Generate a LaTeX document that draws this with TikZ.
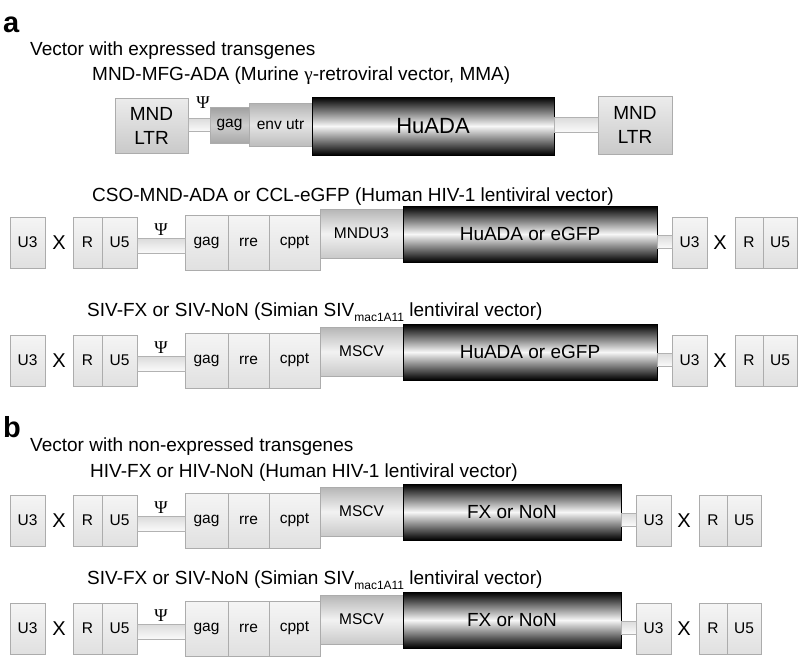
\documentclass[tikz,border=0pt]{standalone}
\usepackage{fontspec}
\setmainfont{Liberation Sans}
\newfontfamily\serifgreek{Liberation Serif}
\usetikzlibrary{shadows}

\tikzset{
  % box from (x1,y1) to (x2,y2), y counted downwards in px
  span/.style n args={4}{minimum width={(#3)-(#1)}, minimum height={(#4)-(#2)},
    at={({((#1)+(#3))/2},{-((#2)+(#4))/2})}},
  seg/.style={draw=gray!65, line width=0.5pt, inner sep=0pt},
  softshadow/.style={drop shadow={shadow xshift=1pt, shadow yshift=-1.2pt, opacity=0.25}},
  part/.style={seg, softshadow, top color=gray!8, bottom color=gray!24, font=\fontsize{15.5}{18}\selectfont},
  ltr/.style={seg, softshadow, top color=gray!15, bottom color=gray!42, align=center, font=\fontsize{19}{24}\selectfont},
  prom/.style={seg, top color=gray!58, bottom color=gray!42, middle color=gray!10, font=\fontsize{15.5}{18}\selectfont},
  gagdark/.style={seg, top color=gray!75, bottom color=gray!68, middle color=gray!38, font=\fontsize{15.5}{18}\selectfont},
  envutr/.style={seg, top color=gray!60, bottom color=gray!52, middle color=gray!20, font=\fontsize{15.5}{18}\selectfont},
  gene/.style={seg, draw=black, top color=black, bottom color=black, middle color=gray!6, font=\fontsize{19}{22}\selectfont},
  tube/.style={draw=gray!60, line width=0.5pt, top color=gray!28, bottom color=gray!4},
  psi/.style={anchor=base, inner sep=0pt, font=\serifgreek\fontsize{18}{20}\selectfont},
  xmark/.style={inner sep=0pt, font=\fontsize{20}{22}\selectfont},
  title/.style={anchor=base west, inner sep=0pt, font=\fontsize{19}{22}\selectfont},
  panel/.style={anchor=base west, inner sep=0pt, font=\bfseries\fontsize{29}{32}\selectfont}
}

\newcommand{\subsiv}{\raisebox{-5pt}{\fontsize{12}{14}\selectfont mac1A11}}

\begin{document}
\begin{tikzpicture}[x=1pt, y=1pt]
  \useasboundingbox (0,0) rectangle (802,-662);

  % panel a
  \node[panel] (pa) at (3,-32) {a};
  \node[title] (ta) at (30,-55) {Vector with expressed transgenes};

  % murine gamma-retroviral vector
  \node[title] (t1) at (92,-80) {MND-MFG-ADA (Murine {\serifgreek γ}-retroviral vector, MMA)};
  \node[ltr, span={115}{98}{188}{153}] (ltrl) {MND\\LTR};
  \node[gagdark, span={210}{107}{249}{143}] (gag) {gag};
  \node[envutr, span={249}{103}{312}{146}] (env) {env utr};
  \node[gene, span={312}{97}{554}{155}, font=\fontsize{22}{26}\selectfont] (huada) {HuADA};
  \node[ltr, span={598}{96}{672}{154}] (ltrr) {MND\\LTR};
  \path[tube] (ltrl.east |- 0,-118) rectangle (gag.west |- 0,-131);
  \path[tube] (huada.east |- 0,-117) rectangle (ltrr.west |- 0,-132);
  \node[psi] (psi) at (203,-108) {Ψ};

  % lentiviral titles
  \node[title] (t2) at (92,-201) {CSO-MND-ADA or CCL-eGFP (Human HIV-1 lentiviral vector)};
  \node[title] (t3) at (87,-316) {SIV-FX or SIV-NoN (Simian SIV\subsiv\ lentiviral vector)};

  % panel b
  \node[panel] (pb) at (3,-437) {b};
  \node[title] (tb) at (30,-451) {Vector with non-expressed transgenes};
  \node[title] (t4) at (90,-477) {HIV-FX or HIV-NoN (Human HIV-1 lentiviral vector)};
  \node[title] (t5) at (87,-584) {SIV-FX or SIV-NoN (Simian SIV\subsiv\ lentiviral vector)};

  % lentiviral rows
  \foreach \r/\y/\p/\g/\xg in {a2/217/MNDU3/HuADA or eGFP/657, a3/335/MSCV/HuADA or eGFP/657,
      b1/495/MSCV/FX or NoN/621, b2/603/MSCV/FX or NoN/621}{
    % 5' LTR
    \node[part, span={10}{\y}{45}{\y+51}] (\r-u3l) {U3};
    \node[xmark] (\r-xl) at (59,-\y-25.5) {X};
    \node[part, span={73}{\y}{102}{\y+51}] (\r-rl) {R};
    \node[part, span={102}{\y}{137}{\y+51}] (\r-u5l) {U5};
    % backbone
    \node[part, span={185}{\y-2}{228}{\y+53}] (\r-gag) {gag};
    \node[part, span={228}{\y-2}{269}{\y+53}] (\r-rre) {rre};
    \node[part, span={269}{\y-2}{320}{\y+53}] (\r-cppt) {cppt};
    \node[prom, span={320}{\y-8}{403}{\y+41}] (\r-prom) {\p};
    \node[gene, span={403}{\y-11}{\xg}{\y+45}] (\r-gene) {\g};
    % 3' LTR
    \node[part, span={\xg+15}{\y}{\xg+50}{\y+51}] (\r-u3r) {U3};
    \node[xmark] (\r-xr) at (\xg+63,-\y-25.5) {X};
    \node[part, span={\xg+78}{\y}{\xg+106}{\y+51}] (\r-rr) {R};
    \node[part, span={\xg+106}{\y}{\xg+140}{\y+51}] (\r-u5r) {U5};
    % tubes
    \path[tube] (\r-u5l.east |- 0,-\y-21) rectangle (\r-gag.west |- 0,-\y-36);
    \path[tube] (\r-gene.east |- 0,-\y-18) rectangle (\r-u3r.west |- 0,-\y-31);
    \node[psi] (\r-psi) at (161,-\y-18) {Ψ};
  }
\end{tikzpicture}
\end{document}
